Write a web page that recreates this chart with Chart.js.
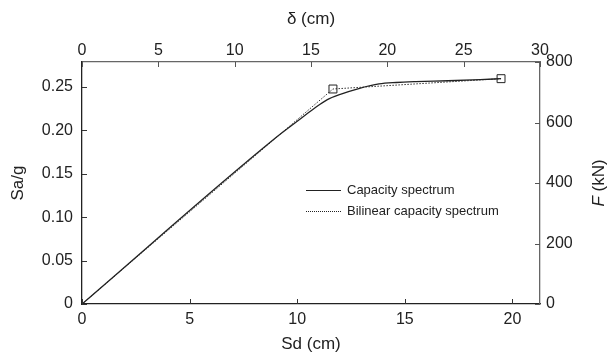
<!DOCTYPE html>
<html>
<head>
<meta charset="utf-8">
<script src="https://cdn.jsdelivr.net/npm/chart.js@4.4.0/dist/chart.umd.min.js"></script>
<style>
  body { margin: 0; background: #fff; }
  #wrap { width: 608px; height: 356px; }
</style>
</head>
<body>
<div id="wrap"><canvas id="grafico" width="608" height="356"></canvas></div>
<script>
// === Datos ===
const sdCapacidad = [0, 9, 10, 10.8, 11.4, 12, 12.9, 13.8, 14.6, 15.5, 17, 18.5, 19.47];
const saCapacidad = [0, 0.1915, 0.2105, 0.2255, 0.2355, 0.2415, 0.2485, 0.2535, 0.2552, 0.2562, 0.2572, 0.2585, 0.2596];

const sdBilineal = [0, 11.66, 19.47];
const saBilineal = [0, 0.2477, 0.2596];

const ticksSd = [0, 5, 10, 15, 20];
const ticksDelta = [0, 5, 10, 15, 20, 25, 30];
const ticksSa = [0, 0.05, 0.10, 0.15, 0.20, 0.25];
const ticksF = [0, 200, 400, 600, 800];

const leyenda = ["Capacity spectrum", "Bilinear capacity spectrum"];

const FUENTE = "'Liberation Sans', Arial, Helvetica, sans-serif";
const NEGRO = "#222";

// === Plugins ===
// marcas de los ejes hacia dentro
const ticksInternos = {
  id: "ticksInternos",
  afterDraw(chart) {
    const ctx = chart.ctx;
    const a = chart.chartArea;
    const L = 5;
    ctx.save();
    ctx.lineWidth = 1;
    ctx.strokeStyle = "#333";
    ticksSd.forEach(v => {
      const px = Math.round(chart.scales.x.getPixelForValue(v)) + 0.5;
      ctx.beginPath(); ctx.moveTo(px, a.bottom); ctx.lineTo(px, a.bottom - L); ctx.stroke();
    });
    ticksSa.forEach(v => {
      const py = Math.round(chart.scales.y.getPixelForValue(v)) + 0.5;
      ctx.beginPath(); ctx.moveTo(a.left, py); ctx.lineTo(a.left + L, py); ctx.stroke();
    });
    ctx.strokeStyle = "#555";
    ticksDelta.forEach(v => {
      const px = Math.round(chart.scales.x2.getPixelForValue(v)) + 0.5;
      ctx.beginPath(); ctx.moveTo(px, a.top); ctx.lineTo(px, a.top + L); ctx.stroke();
    });
    ticksF.forEach(v => {
      const py = Math.round(chart.scales.y2.getPixelForValue(v)) + 0.5;
      ctx.beginPath(); ctx.moveTo(a.right, py); ctx.lineTo(a.right - L, py); ctx.stroke();
    });
    ctx.restore();
  }
};

// leyenda dentro del área y título del eje derecho
const extras = {
  id: "extras",
  afterDraw(chart) {
    const ctx = chart.ctx;
    ctx.save();
    // leyenda
    ctx.font = "13px " + FUENTE;
    ctx.fillStyle = NEGRO;
    ctx.textBaseline = "middle";
    ctx.strokeStyle = NEGRO;
    ctx.lineWidth = 1;
    const filas = [190.5, 211.5];
    filas.forEach((y, i) => {
      ctx.beginPath();
      ctx.setLineDash(i === 0 ? [] : [1, 1]);
      ctx.moveTo(306, y); ctx.lineTo(341, y);
      ctx.stroke();
      ctx.fillText(leyenda[i], 347, y);
    });
    ctx.setLineDash([]);

    // título derecho: F (kN), leído de abajo hacia arriba
    ctx.translate(599, 183);
    ctx.rotate(-Math.PI / 2);
    ctx.textBaseline = "middle";
    ctx.font = "italic 17px " + FUENTE;
    const w1 = ctx.measureText("F").width;
    ctx.font = "17px " + FUENTE;
    const w2 = ctx.measureText(" (kN)").width;
    const x0 = -(w1 + w2) / 2;
    ctx.textAlign = "left";
    ctx.font = "italic 17px " + FUENTE;
    ctx.fillText("F", x0, 0);
    ctx.font = "17px " + FUENTE;
    ctx.fillText(" (kN)", x0 + w1, 0);
    ctx.restore();
  }
};

function fijarTicks(valores) {
  return scale => { scale.ticks = valores.map(v => ({ value: v })); };
}

const datosCapacidad = sdCapacidad.map((x, i) => ({ x, y: saCapacidad[i] }));
const datosBilineal = sdBilineal.map((x, i) => ({ x, y: saBilineal[i] }));

const grafico = new Chart(document.getElementById("grafico"), {
  type: "line",
  data: {
    datasets: [
      {
        label: leyenda[0],
        data: datosCapacidad,
        borderColor: NEGRO,
        borderWidth: 1.3,
        pointRadius: 0,
        cubicInterpolationMode: "monotone",
        xAxisID: "x",
        yAxisID: "y"
      },
      {
        label: leyenda[1],
        data: datosBilineal,
        borderColor: "#333",
        borderWidth: 1,
        borderDash: [1.5, 1.5],
        pointStyle: "rect",
        pointRadius: [0, 5.6, 5.6],
        pointBorderWidth: 1,
        pointBorderColor: NEGRO,
        pointBackgroundColor: "rgba(0,0,0,0)",
        xAxisID: "x",
        yAxisID: "y"
      }
    ]
  },
  options: {
    responsive: false,
    animation: false,
    devicePixelRatio: 1,
    layout: { padding: 0 },
    plugins: { legend: { display: false }, tooltip: { enabled: false } },
    scales: {
      x: {
        type: "linear", position: "bottom", min: 0, max: 21.28,
        afterBuildTicks: fijarTicks(ticksSd),
        afterFit: s => { s.height = 52; },
        grid: { display: false, drawTicks: false },
        border: { color: "#222", width: 1.3 },
        ticks: { padding: 6, color: NEGRO, font: { family: FUENTE, size: 16 }, maxRotation: 0 },
        title: { display: true, text: "Sd (cm)", color: NEGRO, font: { family: FUENTE, size: 17 }, padding: { top: 0, bottom: 1 } }
      },
      x2: {
        type: "linear", position: "top", min: 0, max: 30,
        afterBuildTicks: fijarTicks(ticksDelta),
        afterFit: s => { s.height = 62; },
        grid: { display: false, drawTicks: false },
        border: { color: "#666", width: 1.3 },
        ticks: { padding: 2, color: NEGRO, font: { family: FUENTE, size: 16 }, maxRotation: 0 },
        title: { display: true, text: "δ (cm)", color: NEGRO, font: { family: FUENTE, size: 17 }, padding: { top: 9, bottom: 0 } }
      },
      y: {
        type: "linear", position: "left", min: 0, max: 0.2788,
        afterBuildTicks: fijarTicks(ticksSa),
        afterFit: s => { s.width = 82; },
        grid: { display: false, drawTicks: false },
        border: { color: "#222", width: 1.3 },
        ticks: {
          padding: 9, color: NEGRO, font: { family: FUENTE, size: 16 },
          callback: v => v === 0 ? "0" : v.toFixed(2)
        },
        title: { display: true, text: "Sa/g", color: NEGRO, font: { family: FUENTE, size: 17 }, padding: { top: 8, bottom: 0 } }
      },
      y2: {
        type: "linear", position: "right", min: 0, max: 800,
        afterBuildTicks: fijarTicks(ticksF),
        afterFit: s => { s.width = 68; },
        grid: { display: false, drawTicks: false },
        border: { color: "#666", width: 1.3 },
        ticks: { padding: 6, color: NEGRO, font: { family: FUENTE, size: 16 } },
        title: { display: false }
      }
    }
  },
  plugins: [ticksInternos, extras]
});
</script>
</body>
</html>
